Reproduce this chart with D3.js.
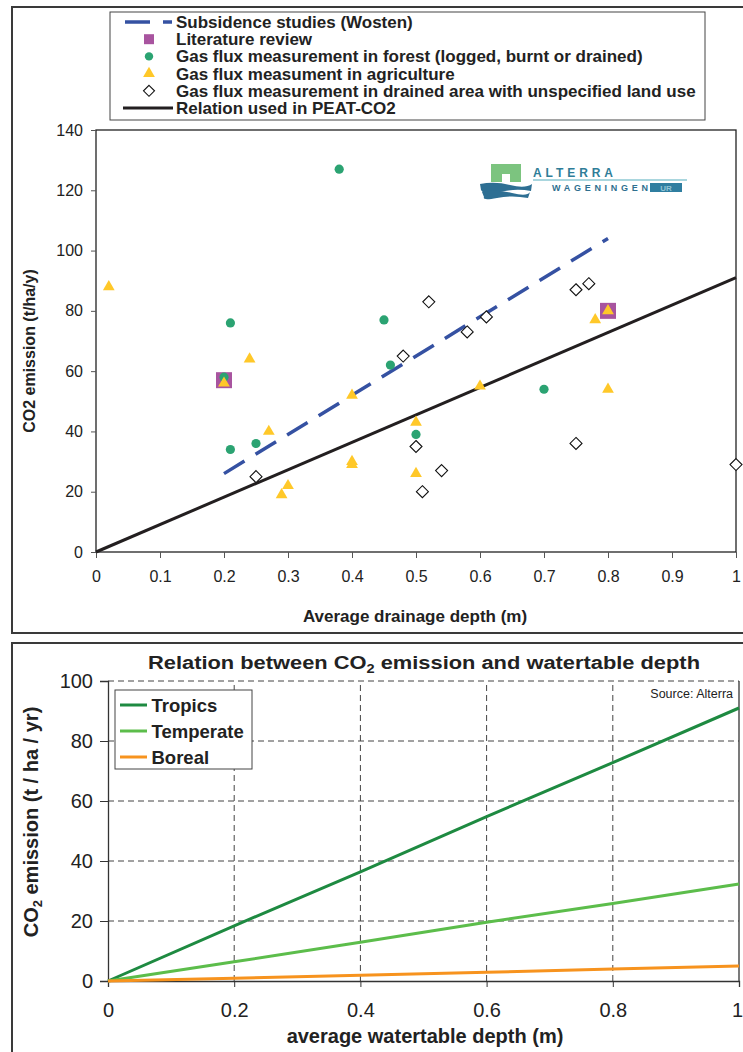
<!DOCTYPE html>
<html>
<head>
<meta charset="utf-8">
<script src="https://cdn.jsdelivr.net/npm/d3@7"></script>
<style>
body { margin: 0; background: #fff; }
svg { display: block; font-family: "Liberation Sans", Arial, sans-serif; }
</style>
</head>
<body>
<script>
// ---- top chart data: [drainage depth (m), CO2 emission (t/ha/y)]
const literaturePts = [[0.2, 57], [0.8, 80]];
const forestPts = [[0.2, 58], [0.21, 76], [0.21, 34], [0.25, 36], [0.38, 127], [0.45, 77], [0.46, 62], [0.5, 39], [0.7, 54]];
const agriPts = [[0.02, 88], [0.2, 56], [0.24, 64], [0.27, 40], [0.29, 19], [0.3, 22], [0.4, 52], [0.4, 30], [0.4, 29],
  [0.5, 43], [0.5, 26], [0.6, 55], [0.78, 77], [0.8, 80], [0.8, 54]];
const drainedPts = [[0.25, 25], [0.48, 65], [0.5, 35], [0.51, 20], [0.52, 83], [0.54, 27], [0.58, 73], [0.61, 78],
  [0.75, 87], [0.75, 36], [0.77, 89], [1.0, 29]];
const wostenPts = [[0.2, 26], [0.8, 104]];
const peatPts = [[0, 0], [1, 91]];
const topXTicks = [0, 0.1, 0.2, 0.3, 0.4, 0.5, 0.6, 0.7, 0.8, 0.9, 1];
const topYTicks = [0, 20, 40, 60, 80, 100, 120, 140];
const topLegend = ["Subsidence studies (Wosten)", "Literature review", "Gas flux measurement in forest (logged, burnt or drained)",
  "Gas flux measument in agriculture", "Gas flux measurement in drained area with unspecified land use", "Relation used in PEAT-CO2"];

// ---- bottom chart data
const depths = [0, 0.2, 0.4, 0.6, 0.8, 1];
const tropics = [0, 18.4, 36.4, 54.8, 72.8, 91];
const temperate = [0, 6.4, 12.9, 19.6, 25.8, 32.3];
const boreal = [0, 0.9, 1.9, 2.9, 4.0, 5.0];
const regions = ["Tropics", "Temperate", "Boreal"];
const botXTicks = [0, 0.2, 0.4, 0.6, 0.8, 1];
const botYTicks = [0, 20, 40, 60, 80, 100];

const svg = d3.select('body').append('svg')
  .attr('width', 743)
  .attr('height', 1052);

// outer frames
svg.append('rect').attr('x', 12).attr('y', 7).attr('width', 800).attr('height', 626)
  .attr('fill', 'none').attr('stroke', '#3a3a3a').attr('stroke-width', 2);
svg.append('rect').attr('x', 12).attr('y', 643).attr('width', 800).attr('height', 500)
  .attr('fill', 'none').attr('stroke', '#3a3a3a').attr('stroke-width', 2);

// ================= top chart =================
const x1 = d3.scaleLinear().domain([0, 1]).range([96, 736]);
const y1 = d3.scaleLinear().domain([0, 140]).range([552, 130]);

svg.append('rect').attr('x', 96).attr('y', 130).attr('width', 640).attr('height', 422)
  .attr('fill', 'none').attr('stroke', '#222').attr('stroke-width', 1.3);

const gx1 = svg.append('g').attr('transform', 'translate(0,552)')
  .call(d3.axisBottom(x1).tickValues(topXTicks).tickFormat(d => d).tickSize(6).tickPadding(13));
const gy1 = svg.append('g').attr('transform', 'translate(96,0)')
  .call(d3.axisLeft(y1).tickValues(topYTicks).tickSize(5).tickPadding(8));
[gx1, gy1].forEach(g => {
  g.select('.domain').remove();
  g.selectAll('line').attr('stroke', '#555');
  g.selectAll('text').attr('font-size', 16).attr('fill', '#222').attr('font-family', null);
});

svg.append('text').text('Average drainage depth (m)')
  .attr('x', 415).attr('y', 622).attr('text-anchor', 'middle')
  .attr('font-size', 17).attr('font-weight', 'bold').attr('fill', '#222');
svg.append('text').text('CO2 emission (t/ha/y)')
  .attr('transform', 'translate(35,351) rotate(-90)').attr('text-anchor', 'middle')
  .attr('font-size', 16).attr('font-weight', 'bold').attr('fill', '#222');

// logo
const logo = svg.append('g');
logo.append('rect').attr('x', 491).attr('y', 164).attr('width', 30).attr('height', 18).attr('fill', '#7cc47f');
logo.append('rect').attr('x', 502).attr('y', 174).attr('width', 8).attr('height', 9).attr('fill', '#fff');
logo.append('path').attr('d', 'M480,184 Q495,181 510,185 T532,184 L531,191 Q516,188 500,192 T481,190 Z').attr('fill', '#2e6f93');
logo.append('path').attr('d', 'M482,192 Q497,189 512,193 T530,192 L528,198 Q512,195 497,198 T484,197 Z').attr('fill', '#2e6f93');
logo.append('text').text('ALTERRA').attr('x', 533).attr('y', 177).attr('textLength', 80)
  .attr('font-size', 12).attr('font-weight', 900).attr('fill', '#2f7d98');
logo.append('line').attr('x1', 533).attr('x2', 687).attr('y1', 180).attr('y2', 180)
  .attr('stroke', '#a9d6de').attr('stroke-width', 2);
logo.append('text').text('WAGENINGEN').attr('x', 552).attr('y', 191).attr('textLength', 96)
  .attr('font-size', 9).attr('font-weight', 900).attr('fill', '#2f6f8f');
logo.append('rect').attr('x', 650).attr('y', 183).attr('width', 32).attr('height', 9).attr('fill', '#2f7ea0');
logo.append('text').text('UR').attr('x', 666).attr('y', 190.5).attr('text-anchor', 'middle')
  .attr('font-size', 8).attr('font-weight', 'bold').attr('fill', '#8fc3d6');

// lines
const line1 = d3.line().x(d => x1(d[0])).y(d => y1(d[1]));
svg.append('path').datum(wostenPts).attr('d', line1)
  .attr('fill', 'none').attr('stroke', '#3551a2').attr('stroke-width', 3.5).attr('stroke-dasharray', '24,13');
svg.append('path').datum(peatPts).attr('d', line1)
  .attr('fill', 'none').attr('stroke', '#231f20').attr('stroke-width', 3);

// markers
svg.selectAll('.lit').data(literaturePts).enter().append('rect').attr('class', 'lit')
  .attr('x', d => x1(d[0]) - 8).attr('y', d => y1(d[1]) - 8).attr('width', 16).attr('height', 16)
  .attr('fill', '#a8549f');
svg.selectAll('.forest').data(forestPts).enter().append('circle').attr('class', 'forest')
  .attr('cx', d => x1(d[0])).attr('cy', d => y1(d[1])).attr('r', 4.6).attr('fill', '#2ba372');
const tri = d3.symbol().type(d3.symbolTriangle).size(60);
svg.selectAll('.agri').data(agriPts).enter().append('path').attr('class', 'agri')
  .attr('d', tri).attr('transform', d => `translate(${x1(d[0])},${y1(d[1])})`).attr('fill', '#ffc829');
svg.selectAll('.drained').data(drainedPts).enter().append('path').attr('class', 'drained')
  .attr('d', 'M0,-6L6,0L0,6L-6,0Z').attr('transform', d => `translate(${x1(d[0])},${y1(d[1])})`)
  .attr('fill', '#fff').attr('stroke', '#111').attr('stroke-width', 1.1);

// top legend
const lg = svg.append('g');
lg.append('rect').attr('x', 110).attr('y', 12).attr('width', 595).attr('height', 108)
  .attr('fill', '#fff').attr('stroke', '#444').attr('stroke-width', 1);
const rowY = i => 22 + i * 17.2;
lg.append('line').attr('x1', 125).attr('x2', 172).attr('y1', rowY(0)).attr('y2', rowY(0))
  .attr('stroke', '#3551a2').attr('stroke-width', 3.5).attr('stroke-dasharray', '25,13');
lg.append('rect').attr('x', 144).attr('y', rowY(1) - 5).attr('width', 10).attr('height', 10).attr('fill', '#a8549f');
lg.append('circle').attr('cx', 149).attr('cy', rowY(2)).attr('r', 4.2).attr('fill', '#2ba372');
lg.append('path').attr('d', tri).attr('transform', `translate(149,${rowY(3)})`).attr('fill', '#ffc829');
lg.append('path').attr('d', 'M0,-5.5L5.5,0L0,5.5L-5.5,0Z').attr('transform', `translate(149,${rowY(4)})`)
  .attr('fill', '#fff').attr('stroke', '#111').attr('stroke-width', 1.1);
lg.append('line').attr('x1', 123).attr('x2', 173).attr('y1', rowY(5)).attr('y2', rowY(5))
  .attr('stroke', '#231f20').attr('stroke-width', 3);
lg.selectAll('.lgt').data(topLegend).enter().append('text').attr('class', 'lgt')
  .text(d => d).attr('x', 176).attr('y', (d, i) => rowY(i) + 6)
  .attr('font-size', 17).attr('font-weight', 'bold').attr('fill', '#222');

// ================= bottom chart =================
const x2 = d3.scaleLinear().domain([0, 1]).range([108, 739]);
const y2 = d3.scaleLinear().domain([0, 100]).range([981, 681]);

const grid = svg.append('g').attr('stroke', '#444').attr('stroke-width', 1).attr('stroke-dasharray', '6,4');
grid.selectAll('.hg').data(botYTicks.filter(d => d > 0)).enter().append('line')
  .attr('x1', x2(0)).attr('x2', x2(1)).attr('y1', d => y2(d)).attr('y2', d => y2(d));
grid.selectAll('.vg').data(botXTicks.filter(d => d > 0 && d < 1)).enter().append('line')
  .attr('x1', d => x2(d)).attr('x2', d => x2(d)).attr('y1', y2(0)).attr('y2', y2(100));
svg.append('line').attr('x1', x2(1)).attr('x2', x2(1)).attr('y1', y2(0)).attr('y2', y2(100))
  .attr('stroke', '#333').attr('stroke-width', 1.3);

const gx2 = svg.append('g').attr('transform', 'translate(0,981)')
  .call(d3.axisBottom(x2).tickValues(botXTicks).tickFormat(d => d).tickSize(6).tickPadding(16));
const gy2 = svg.append('g').attr('transform', 'translate(108,0)')
  .call(d3.axisLeft(y2).tickValues(botYTicks).tickSize(8).tickPadding(7));
[gx2, gy2].forEach(g => {
  g.select('.domain').attr('stroke', '#333').attr('stroke-width', 1.3);
  g.selectAll('line').attr('stroke', '#333');
  g.selectAll('text').attr('font-size', 20).attr('fill', '#222').attr('font-family', null);
});
// keep the last x label inside the picture
gx2.selectAll('.tick text').filter(d => d === 1).attr('dx', -2);

const series = [tropics, temperate, boreal];
const colors = ['#1e8a41', '#5cbd4b', '#f7931e'];
const line2 = d3.line().x((d, i) => x2(depths[i])).y(d => y2(d));
series.forEach((s, k) => {
  svg.append('path').datum(s).attr('d', line2)
    .attr('fill', 'none').attr('stroke', colors[k]).attr('stroke-width', 3);
});

const title = svg.append('text').attr('x', 148).attr('y', 669)
  .attr('textLength', 552).attr('lengthAdjust', 'spacingAndGlyphs')
  .attr('font-size', 18).attr('font-weight', 'bold').attr('fill', '#222');
title.append('tspan').text('Relation between CO');
title.append('tspan').text('2').attr('font-size', 12).attr('dy', 4);
title.append('tspan').text(' emission and watertable depth').attr('dy', -4);

svg.append('text').text('Source: Alterra').attr('x', 733).attr('y', 698).attr('text-anchor', 'end')
  .attr('font-size', 12.5).attr('fill', '#222');

svg.append('text').text('average watertable depth (m)')
  .attr('x', 425).attr('y', 1043).attr('text-anchor', 'middle')
  .attr('font-size', 20).attr('font-weight', 'bold').attr('fill', '#222');
const yt = svg.append('text').attr('transform', 'translate(38,822) rotate(-90)').attr('text-anchor', 'middle')
  .attr('font-size', 20).attr('font-weight', 'bold').attr('fill', '#222');
yt.append('tspan').text('CO');
yt.append('tspan').text('2').attr('font-size', 13).attr('dy', 4);
yt.append('tspan').text(' emission (t / ha / yr)').attr('dy', -4);

// bottom legend
const lg2 = svg.append('g');
lg2.append('rect').attr('x', 115).attr('y', 690).attr('width', 137).attr('height', 79)
  .attr('fill', '#fff').attr('stroke', '#444').attr('stroke-width', 1);
regions.forEach((r, i) => {
  const cy = 705 + i * 26;
  lg2.append('line').attr('x1', 120).attr('x2', 147).attr('y1', cy).attr('y2', cy)
    .attr('stroke', colors[i]).attr('stroke-width', 3);
  lg2.append('text').text(r).attr('x', 151.5).attr('y', cy + 6.5)
    .attr('font-size', 18.5).attr('font-weight', 'bold').attr('fill', '#222');
});
</script>
</body>
</html>
